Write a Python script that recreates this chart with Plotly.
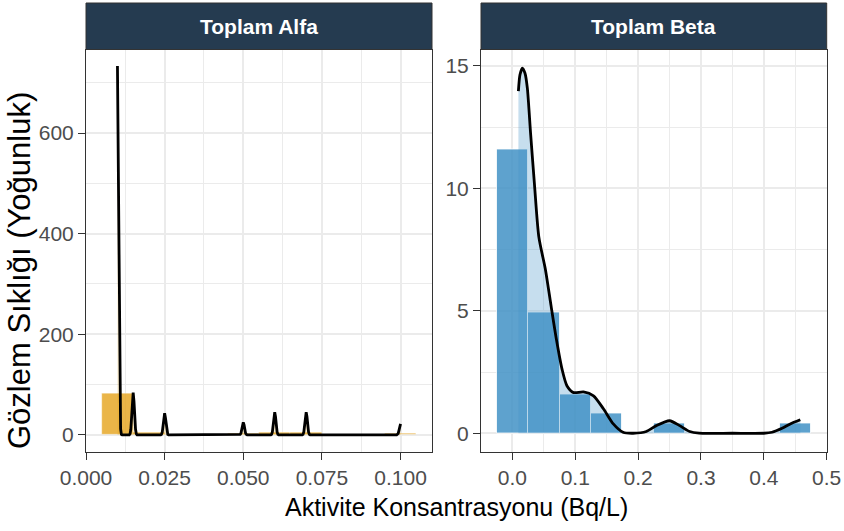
import plotly.graph_objects as go

# ---- Toplam Alfa: histogram (density scale, binwidth 0.01) ----
alfa_bin_centers = [0.01, 0.02, 0.05, 0.06, 0.07, 0.10]
alfa_bin_density = [82.0, 4.1, 2.0, 4.1, 4.1, 2.0]
alfa_binwidth = 0.01

# Toplam Alfa kernel density curve
alfa_dens_x = [
    0.01000, 0.01025, 0.01050, 0.01075, 0.01100, 0.01125, 0.01150,
    0.01375, 0.01400, 0.01425, 0.01450, 0.01475, 0.01500, 0.01525, 0.01550, 0.01575, 0.01600, 0.01625,
    0.02375, 0.02400, 0.02425, 0.02450, 0.02475, 0.02500, 0.02525, 0.02550, 0.02575, 0.02600, 0.02625,
    0.04875, 0.04900, 0.04925, 0.04950, 0.04975, 0.05000, 0.05025, 0.05050, 0.05075, 0.05100, 0.05125,
    0.05875, 0.05900, 0.05925, 0.05950, 0.05975, 0.06000, 0.06025, 0.06050, 0.06075, 0.06100, 0.06125,
    0.06875, 0.06900, 0.06925, 0.06950, 0.06975, 0.07000, 0.07025, 0.07050, 0.07075, 0.07100, 0.07125,
    0.09875, 0.09900, 0.09925, 0.09950, 0.09975, 0.10000,
]
alfa_dens_y = [
    733, 560, 250, 70, 12, 1, 0,
    0, 2, 11, 34, 67, 84, 67, 34, 11, 2, 0,
    0, 1, 6, 18, 34, 43, 34, 18, 6, 1, 0,
    0, 1, 3, 10, 20, 25, 20, 10, 3, 1, 0,
    0, 1, 6, 18, 36, 45, 36, 18, 6, 1, 0,
    0, 1, 6, 18, 36, 45, 36, 18, 6, 1, 0,
    0, 1, 3, 9, 18, 22,
]

# ---- Toplam Beta: histogram (density scale, binwidth 0.05) ----
beta_bin_centers = [0.00, 0.05, 0.10, 0.15, 0.25, 0.45]
beta_bin_density = [11.6, 4.93, 1.60, 0.80, 0.38, 0.38]
beta_binwidth = 0.05

# Toplam Beta kernel density curve
beta_dens_x = [0.0095, 0.012, 0.0158, 0.020, 0.0237, 0.029, 0.035, 0.042, 0.0526,
               0.0616, 0.070, 0.079, 0.0869, 0.0973, 0.113, 0.129, 0.145, 0.1605,
               0.176, 0.192, 0.213, 0.229, 0.250, 0.266, 0.282, 0.297, 0.350,
               0.400, 0.413, 0.429, 0.442, 0.458]
beta_dens_y = [13.97, 14.64, 14.91, 14.70, 14.10, 12.20, 10.18, 8.02, 6.67,
               5.18, 3.83, 2.61, 1.93, 1.66, 1.69, 1.53, 0.99, 0.38,
               0.04, 0.0, 0.07, 0.31, 0.51, 0.31, 0.07, 0.0, 0.0,
               0.0, 0.04, 0.20, 0.38, 0.55]

facet_titles = ["Toplam Alfa", "Toplam Beta"]
x_title = "Aktivite Konsantrasyonu (Bq/L)"
y_title = "Gözlem Sıklığı (Yoğunluk)"

W, H = 844, 531
FONT = "Liberation Sans"
STRIP = "#253B50"
GRID = "#EBEBEB"

# panel boxes in pixels: (left, right, top, bottom)
panels = [(86, 432, 49.5, 451.5), (481, 826.7, 49.5, 451.5)]
strip_top = 3


def px_x(v):
    return v / W


def px_y(v):
    return 1 - v / H


fig = go.Figure()

# Alfa
fig.add_trace(go.Bar(x=alfa_bin_centers, y=alfa_bin_density, width=alfa_binwidth,
                     marker=dict(color="rgba(228,160,20,0.78)",
                                 line=dict(color="rgba(255,255,255,0.6)", width=0.5)),
                     xaxis="x", yaxis="y", showlegend=False))
fig.add_trace(go.Scatter(x=alfa_dens_x, y=alfa_dens_y, mode="lines", fill="tozeroy",
                         fillcolor="rgba(230,159,0,0.2)",
                         line=dict(color="black", width=2.8),
                         xaxis="x", yaxis="y", showlegend=False))

# Beta
fig.add_trace(go.Bar(x=beta_bin_centers, y=beta_bin_density, width=beta_binwidth,
                     marker=dict(color="rgba(66,146,198,0.85)",
                                 line=dict(color="rgba(255,255,255,0.8)", width=1)),
                     xaxis="x2", yaxis="y2", showlegend=False))
fig.add_trace(go.Scatter(x=beta_dens_x, y=beta_dens_y, mode="lines", fill="tozeroy",
                         fillcolor="rgba(66,146,198,0.3)",
                         line=dict(color="black", width=2.8, shape="spline", smoothing=0.7),
                         xaxis="x2", yaxis="y2", showlegend=False))

tickfont = dict(family=FONT, size=21, color="#4D4D4D")


def axis_common():
    return dict(showline=True, mirror=True, linecolor="#333333", linewidth=1,
                ticks="outside", ticklen=7, tickwidth=1, tickcolor="#333333",
                tickfont=tickfont, showgrid=True, gridcolor=GRID, gridwidth=1.6,
                zeroline=False, fixedrange=True, automargin=False)


(l1, r1, t1, b1), (l2, r2, t2, b2) = panels

fig.update_layout(
    width=W, height=H, autosize=False,
    margin=dict(l=0, r=0, t=0, b=0),
    paper_bgcolor="white", plot_bgcolor="white",
    bargap=0,
    xaxis=dict(domain=[px_x(l1), px_x(r1)], range=[0.0, 0.11],
               tick0=0, dtick=0.025, tickformat=".3f", anchor="y",
               minor=dict(tick0=0, dtick=0.0125, showgrid=True, gridcolor=GRID, gridwidth=0.8),
               **axis_common()),
    yaxis=dict(domain=[px_y(b1), px_y(t1)], range=[-33, 766],
               tick0=0, dtick=200, anchor="x",
               minor=dict(tick0=0, dtick=100, showgrid=True, gridcolor=GRID, gridwidth=0.8),
               **axis_common()),
    xaxis2=dict(domain=[px_x(l2), px_x(r2)], range=[-0.05, 0.5],
                tick0=0, dtick=0.1, tickformat=".1f", anchor="y2",
                minor=dict(tick0=0, dtick=0.05, showgrid=True, gridcolor=GRID, gridwidth=0.8),
                **axis_common()),
    yaxis2=dict(domain=[px_y(b2), px_y(t2)], range=[-0.746, 15.67],
                tick0=0, dtick=5, anchor="x2",
                minor=dict(tick0=0, dtick=2.5, showgrid=True, gridcolor=GRID, gridwidth=0.8),
                **axis_common()),
)

shapes = []
annotations = []
for (l, r, t, b), title in zip(panels, facet_titles):
    shapes.append(dict(type="rect", xref="paper", yref="paper",
                       x0=px_x(l), x1=px_x(r), y0=px_y(t), y1=px_y(strip_top),
                       fillcolor=STRIP, line=dict(color="#333333", width=1), layer="above"))
    annotations.append(dict(text=f"<b>{title}</b>", xref="paper", yref="paper",
                            x=px_x((l + r) / 2), y=px_y((t + strip_top) / 2),
                            xanchor="center", yanchor="middle", showarrow=False,
                            font=dict(family=FONT, size=21, color="white")))

annotations.append(dict(text=x_title, xref="paper", yref="paper",
                        x=px_x((l1 + r2) / 2), y=px_y(507), xanchor="center", yanchor="middle",
                        showarrow=False, font=dict(family=FONT, size=25, color="black")))
annotations.append(dict(text=y_title, xref="paper", yref="paper", textangle=-90,
                        x=px_x(19), y=px_y(271), xanchor="center", yanchor="middle",
                        showarrow=False, font=dict(family=FONT, size=31, color="black")))

fig.update_layout(shapes=shapes, annotations=annotations)

fig.write_html("out.html")
